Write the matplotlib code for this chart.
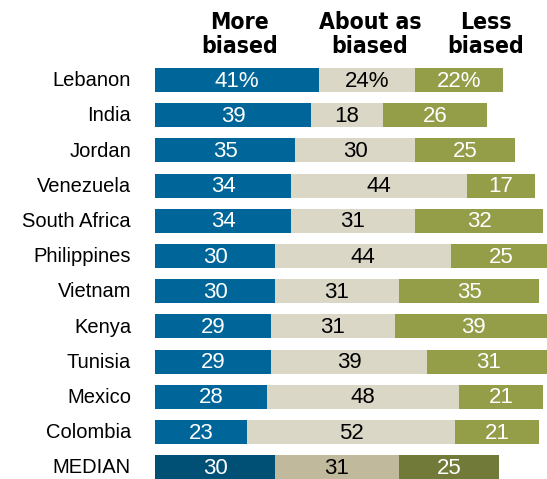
import matplotlib.pyplot as plt
import numpy as np

countries = ["Lebanon", "India", "Jordan", "Venezuela", "South Africa",
             "Philippines", "Vietnam", "Kenya", "Tunisia", "Mexico",
             "Colombia", "MEDIAN"]
more_biased = [41, 39, 35, 34, 34, 30, 30, 29, 29, 28, 23, 30]
about_as = [24, 18, 30, 44, 31, 44, 31, 31, 39, 48, 52, 31]
less_biased = [22, 26, 25, 17, 32, 25, 35, 39, 31, 21, 21, 25]
headers = ["More\nbiased", "About as\nbiased", "Less\nbiased"]

colors = ["#006699", "#dad7c7", "#949d48"]
median_colors = ["#004f75", "#c0b99b", "#717a38"]
text_colors = ["white", "black", "white"]

fig = plt.figure(figsize=(5.47, 4.79), dpi=100)
ax = fig.add_axes([155 / 547, 0, 392 / 547, 1])
ax.set_xlim(0, 98)
ax.set_ylim(11.335, -2.273)
ax.axis("off")

y = np.arange(len(countries))
series = [more_biased, about_as, less_biased]
left = np.zeros(len(countries))
for k, vals in enumerate(series):
    vals = np.array(vals)
    cols = [median_colors[k] if c == "MEDIAN" else colors[k] for c in countries]
    ax.barh(y, vals, left=left, height=0.68, color=cols, edgecolor="none")
    for i, v in enumerate(vals):
        label = f"{v}%" if i == 0 else str(v)
        ax.text(left[i] + v / 2, y[i] + 0.03, label, ha="center", va="center",
                color=text_colors[k], fontsize=16, family="Liberation Sans")
    left = left + vals

for i, c in enumerate(countries):
    ax.text(-6, y[i] + 0.02, c, ha="right", va="center", fontsize=14.5,
            family="Liberation Sans", color="black")

header_x = [21.25, 53.75, 82.75]
for hx, h in zip(header_x, headers):
    ax.text(hx, -1.3, h, ha="center", va="center", fontsize=16.5,
            fontweight="bold", family="DejaVu Sans", fontstretch="condensed",
            linespacing=1.05)

fig.savefig("out.png", dpi=100)
